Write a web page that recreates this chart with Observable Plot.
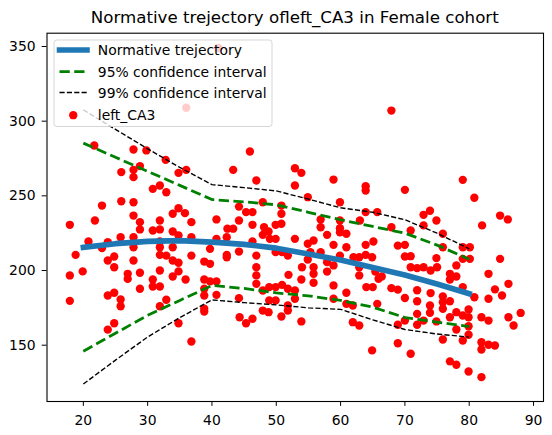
<!DOCTYPE html>
<html>
<head>
<meta charset="utf-8">
<script src="https://cdn.jsdelivr.net/npm/d3@7"></script>
<script src="https://cdn.jsdelivr.net/npm/@observablehq/plot@0.6"></script>
<style>
  html, body { margin: 0; padding: 0; background: #fff; }
  #wrap { width: 552px; height: 435px; position: relative; overflow: hidden; background: #fff; }
  #title {
    box-sizing: border-box; width: 552px; height: 26px;
    padding-top: 8px; padding-left: 37.5px; text-align: center;
    font-family: "DejaVu Sans"; font-size: 16.67px; line-height: 20px;
    color: #000; white-space: nowrap;
  }
  #chart svg { display: block; }
</style>
</head>
<body>
<div id="wrap">
  <div id="title"></div>
  <div id="chart"></div>
</div>
<script>
// Title and legend text
const titleText = "Normative trejectory ofleft_CA3 in Female cohort";
const legendLabels = ["Normative trejectory", "95% confidence interval", "99% confidence interval", "left_CA3"];

// Axis ticks
const xTickValues = [20, 30, 40, 50, 60, 70, 80, 90];
const yTickValues = [150, 200, 250, 300, 350];

// Subjects: age (years) and left CA3 volume
const subjectAge = [
  36.0,41.0,21.7,27.8,29.8,32.8,36.0,34.8,28.8,27.8,
  25.9,27.8,30.8,31.9,32.9,22.9,25.9,27.8,34.8,33.9,
  35.8,27.8,45.9,43.3,46.9,52.9,53.9,52.9,58.9,63.9,
  63.9,54.9,59.9,47.9,50.8,44.2,45.3,46.3,50.8,63.9,
  65.7,67.9,70.0,79.0,80.8,72.9,73.9,84.8,86.0,17.9,
  21.8,28.8,28.8,31.9,30.8,31.9,33.9,34.8,36.8,40.7,
  20.8,23.8,25.8,27.8,22.9,27.8,31.9,31.9,33.9,36.8,
  39.7,40.7,18.8,23.8,24.8,24.8,27.8,31.9,32.9,33.9,
  34.8,36.8,38.8,39.7,17.9,19.9,26.9,26.9,28.8,31.9,
  33.9,34.8,35.9,30.8,30.8,31.9,28.8,38.8,39.7,40.7,
  38.8,38.8,40.7,17.9,23.8,24.8,25.8,25.8,32.9,31.9,
  38.8,38.8,24.8,23.8,34.8,36.8,43.3,42.4,42.3,44.2,
  46.3,48.1,50.8,49.9,48.8,47.9,49.0,49.9,52.9,54.9,
  55.8,57.9,56.9,56.9,59.9,59.9,59.9,60.9,63.0,46.3,
  44.2,42.3,42.3,46.9,51.8,50.9,49.9,54.9,55.3,54.0,
  55.8,55.8,56.9,57.9,58.9,57.9,58.9,60.9,59.9,62.0,
  62.9,63.9,64.9,63.9,65.1,62.9,62.9,64.0,65.0,65.9,
  44.2,46.9,46.9,46.9,47.9,48.9,49.9,50.9,51.8,52.9,
  52.9,48.9,49.9,51.9,53.9,55.8,47.9,48.8,51.8,51.8,
  50.8,44.3,45.3,46.3,53.9,58.9,58.9,60.9,60.9,61.9,
  61.9,62.9,64.9,65.7,67.9,70.9,74.9,72.9,75.9,82.0,
  68.9,70.0,70.0,70.9,70.9,71.9,72.9,74.9,74.0,75.0,
  75.9,79.0,80.1,80.1,79.0,78.0,77.0,78.0,77.0,84.8,
  83.0,65.4,66.4,67.9,68.9,70.0,71.9,71.9,74.0,75.9,
  77.0,75.9,79.0,80.8,83.0,84.0,85.1,86.1,73.9,73.9,
  71.9,70.0,68.9,71.9,72.9,74.9,75.9,77.0,78.0,79.0,
  79.9,79.9,79.9,81.9,83.0,86.1,86.9,88.0,78.0,75.9,
  79.0,79.9,81.9,83.0,84.0,81.9,68.9,70.9,77.0,78.0,
  79.9,81.9
];
const subjectVolume = [
  309,349,283.7,281,280.4,274.1,267.4,265.4,269.9,267.4,
  265.9,262.5,254.7,256.9,252.4,243.5,246.4,245.7,241.7,238,
  238.4,236.8,279.7,267.4,260.3,268.5,265.4,256.9,260.9,256.5,
  253.6,249.1,245.7,245.7,243.5,242.8,239.1,239.1,238,239.1,
  239.1,307.1,254,260.7,248.7,237.3,240,236.8,234.2,230.6,
  233.5,232.4,227.5,233.5,226.8,227.5,226.1,223.5,232.4,234.2,
  219.4,219,222.3,222.3,215,215.6,219.4,215.6,215.6,222.3,
  214.5,221.2,210.5,206.7,209.4,202.2,206.7,210.5,210,206.7,
  205.2,210,206,204.5,196.7,199.4,197.8,194.4,198.5,200,
  196,199.4,194,194,189.3,189.3,187.8,194,192.7,192.7,
  187.8,183.3,183.7,179.7,183.3,185.1,180.6,176.1,180.4,176.1,
  174.4,172.5,164.7,160.4,164.7,152.5,228,228,222.3,233.5,
  230.6,229,231.3,230.6,226.1,223.9,221.2,221.2,221.2,217.9,
  220.1,223.9,234.2,229,233.5,228.3,225.6,224.6,233.5,219.4,
  212.7,210.5,208.9,210,210,212.3,212.3,207.4,212.3,202.2,
  202.2,197.8,212.3,205.6,203.4,199.3,217.2,215.6,210,208.9,
  208.9,210.5,208.9,217.2,219.4,202.2,196.7,188.9,188.9,194.5,
  181.5,202.2,196.7,191.1,186.6,188.9,188.9,190.4,187.8,186.6,
  181.1,180,180,197.1,194,191.8,173.2,172.1,173.2,176.6,
  169.2,168.7,164.7,167.7,165.9,190,181.1,185.1,177.7,176.6,
  165.4,163.2,146.5,177.7,229,226.8,233.5,230.2,224.6,230.2,
  216.7,217.2,209.4,209.6,202.2,201.6,202.2,208.3,200,202.2,
  215.6,215.6,215.6,207.8,207.8,203.4,197.8,196,194,207.8,
  197.8,199.3,196,188.2,187.2,181.6,186.8,179.4,184.9,182.7,
  179.4,178.8,188.9,182.1,181.1,187.4,183.3,191.1,176.6,171.7,
  171,166.5,163.7,163.7,166.5,165.9,174.4,168.7,172.1,169.9,
  173.9,168.7,162.7,168.7,166.5,168.7,163.2,171.6,160.5,153.8,
  153.1,157,152,150.3,149.8,147.1,151.3,144.3,139.2,136.9,
  132.4,128.6
];

// Normative trajectory and confidence bands, sampled every 5 years
const curveAge = [20, 25, 30, 35, 40, 45, 50, 55, 60, 65, 70, 75, 80];
const normMean = [215.5, 218, 219.5, 220, 219, 217.5, 215, 211, 207, 202, 197, 191, 184.5];
const upper95  = [285.3, 275.8, 266.4, 257, 247.5, 246, 244, 239, 234, 229.5, 225, 217, 207.5];
const lower95  = [146, 158, 170, 180, 190, 188, 185, 183, 180, 175.5, 168.5, 165.5, 162.5];
const upper99  = [307.6, 294.5, 281.5, 269, 257.5, 255.5, 253.3, 247.8, 242, 239, 234, 225, 214.5];
const lower99  = [124, 140, 155.5, 168.5, 180.3, 178.5, 177, 175, 174, 167, 160.5, 157.5, 155.4];

const subjects = subjectAge.map((a, i) => ({age: a, volume: subjectVolume[i]}));
const curves = curveAge.map((a, i) => ({
  age: a, mean: normMean[i], u95: upper95[i], l95: lower95[i], u99: upper99[i], l99: lower99[i]
}));

const blue = "#1f77b4";
const green = "#008000";
const lw = 1.389; // px per point
const dash95 = `${7.4 * lw} ${3.2 * lw}`;
const dash99 = `${3.7 * lw} ${1.6 * lw}`;

document.getElementById("title").textContent = titleText;

const chart = Plot.plot({
  width: 552,
  height: 409,
  marginLeft: 46.5,
  marginRight: 9,
  marginTop: 6.7,
  marginBottom: 34,
  style: {fontFamily: "DejaVu Sans", fontSize: "13.9px", color: "#000", background: "#fff"},
  x: {domain: [14.35, 91.55], ticks: xTickValues, tickSize: 4.86, tickPadding: 9, tickFormat: d => String(d), label: null},
  y: {domain: [112.3, 358.9], ticks: yTickValues, tickSize: 4.86, tickPadding: 6.5, tickFormat: d => String(d), label: null},
  marks: [
    Plot.dot(subjects, {x: "age", y: "volume", r: 4.17, fill: "#ff0000", stroke: "none"}),
    Plot.line(curves, {x: "age", y: "mean", stroke: blue, strokeWidth: 4 * lw, strokeLinecap: "square"}),
    Plot.line(curves, {x: "age", y: "u95", stroke: green, strokeWidth: 2 * lw, strokeDasharray: dash95, strokeLinecap: "butt"}),
    Plot.line(curves, {x: "age", y: "l95", stroke: green, strokeWidth: 2 * lw, strokeDasharray: dash95, strokeLinecap: "butt"}),
    Plot.line(curves, {x: "age", y: "u99", stroke: "#000", strokeWidth: lw, strokeDasharray: dash99, strokeLinecap: "butt"}),
    Plot.line(curves, {x: "age", y: "l99", stroke: "#000", strokeWidth: lw, strokeDasharray: dash99, strokeLinecap: "butt"}),
    Plot.frame({stroke: "#000", strokeWidth: 1.1})
  ]
});
document.getElementById("chart").appendChild(chart);

// Legend box in the upper-left corner of the axes
const NS = "http://www.w3.org/2000/svg";
const svgRoot = chart.tagName.toLowerCase() === "svg" ? chart : chart.querySelector("svg");
const lg = d3.select(svgRoot).append("g")
  .attr("text-anchor", "start")
  .style("font-family", "DejaVu Sans")
  .style("font-size", "13.9px");
lg.append("rect")
  .attr("x", 54).attr("y", 14).attr("width", 218).attr("height", 86.5)
  .attr("rx", 2.8).attr("ry", 2.8)
  .style("fill", "#ffffff").style("fill-opacity", 0.8)
  .style("stroke", "#cccccc").style("stroke-opacity", 0.8).style("stroke-width", 1);

const rowY = [24, 45.7, 66.5, 89.2];
const hx0 = 59.5, hx1 = 87, tx = 97.8;
lg.append("line").attr("x1", hx0).attr("x2", hx1).attr("y1", rowY[0]).attr("y2", rowY[0])
  .style("stroke", blue).style("stroke-width", 4 * lw).style("stroke-linecap", "square");
lg.append("line").attr("x1", hx0).attr("x2", hx1).attr("y1", rowY[1]).attr("y2", rowY[1])
  .style("stroke", green).style("stroke-width", 2 * lw).style("stroke-dasharray", dash95);
lg.append("line").attr("x1", hx0).attr("x2", hx1).attr("y1", rowY[2]).attr("y2", rowY[2])
  .style("stroke", "#000").style("stroke-width", lw).style("stroke-dasharray", dash99);
lg.append("circle").attr("cx", (hx0 + hx1) / 2).attr("cy", rowY[3]).attr("r", 4.17).style("fill", "#ff0000");
legendLabels.forEach((t, i) => {
  lg.append("text").attr("x", tx).attr("y", rowY[i]).attr("dy", "0.36em")
    .style("fill", "#000").text(t);
});
</script>
</body>
</html>
